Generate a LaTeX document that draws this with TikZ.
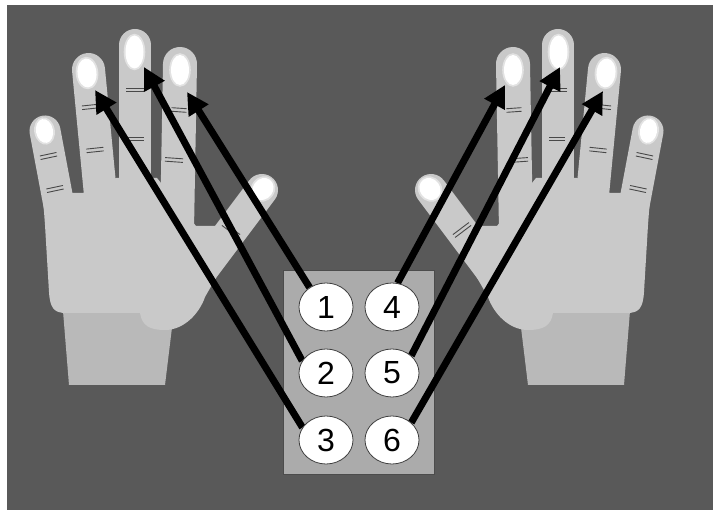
\documentclass[tikz,border=0pt]{standalone}
\usepackage{fontspec}
\setmainfont{Liberation Sans}
\usetikzlibrary{arrows.meta,shapes.geometric}

\definecolor{bgc}{HTML}{595959}
\definecolor{skin}{HTML}{C9C9C9}
\definecolor{wristc}{HTML}{B9B9B9}
\definecolor{nailrim}{HTML}{E2E2E2}
\definecolor{creasec}{HTML}{484848}
\definecolor{boardc}{HTML}{ABABAB}

\pgfdeclarelayer{backdrop}
\pgfdeclarelayer{wires}
\pgfsetlayers{backdrop,wires,main}

\tikzset{
  fingerline/.style={draw=skin, line width=#1, line cap=round},
  dotnode/.style={ellipse, draw=black!75, line width=0.8pt, fill=white,
    minimum width=54pt, minimum height=48pt, inner sep=0pt,
    font=\fontsize{32}{32}\selectfont},
  boardbox/.style={rectangle, draw=black!70, fill=boardc, line width=1pt,
    minimum width=151pt, minimum height=204pt, inner sep=0pt},
  pointer/.style={line width=7pt, black, -{Triangle[length=22pt,width=22pt]}},
  creaseline/.style={draw=creasec, line width=0.9pt},
}

% fingernail: x, y, x radius, y radius, tilt
\newcommand\handnail[5]{%
  \fill[nailrim, rotate around={#5:(#1,#2)}] (#1,#2) ellipse[x radius=#3+1.8, y radius=#4+1.8];
  \fill[white, rotate around={#5:(#1,#2)}] (#1,#2) ellipse[x radius=#3, y radius=#4];
}

% double crease line: x, y, tilt, length
\newcommand\handcrease[4]{%
  \begin{scope}[shift={(#1,#2)}, rotate=#3]
    \draw[creaseline] (-#4/2,-1.8) -- (#4/2,-1.8) (-#4/2,1.8) -- (#4/2,1.8);
  \end{scope}
}

% one left hand, palm towards the viewer
\newcommand\drawhand{%
  % wrist
  \fill[wristc] (63,311) -- (174,311) -- (165,385) -- (69,385) -- cycle;
  % palm
  \fill[skin] (42,185) -- (45,225) -- (49,292)
    .. controls (50,308) and (54,313) .. (66,313) -- (140,313)
    .. controls (142,326) and (150,330) .. (165,330)
    .. controls (185,330) and (200,312) .. (205,297)
    -- (225,262) -- (217,226) -- (196,226) -- (157,178) -- (116,178)
    -- (83,193) -- (72,193) -- (58,180) -- cycle;
  % fingers: little, ring, middle, index, thumb
  \draw[fingerline=31pt] (45,131) -- (60.7,214.5);
  \draw[fingerline=33pt] (88.5,69.5) -- (101,200);
  \draw[fingerline=32pt] (135,45) -- (135,200);
  \draw[fingerline=34pt] (180,64) -- (177,230);
  \draw[fingerline=32pt] (262,190) -- (190,286);
  % nails
  \handnail{44.5}{131}{8.5}{12}{10.7}
  \handnail{87}{73}{9.5}{14.5}{5}
  \handnail{134.5}{52}{9}{16.5}{0}
  \handnail{180}{70}{9}{15}{0}
  \handnail{263}{189}{10}{11.5}{-37}
  % creases
  \handcrease{48.5}{156}{12}{17}
  \handcrease{55}{189}{12}{17}
  \handcrease{89.5}{107}{6}{15}
  \handcrease{95}{150}{6}{17}
  \handcrease{135}{90}{0}{18}
  \handcrease{136}{139}{0}{16}
  \handcrease{179}{110}{-4}{15}
  \handcrease{174}{160}{-4}{18}
  \handcrease{231}{230}{-37}{20}
}

\begin{document}
\begin{tikzpicture}[x=1pt,y=-1pt]
  \useasboundingbox (0,0) rectangle (713,510);

  \begin{pgfonlayer}{backdrop}
    \fill[white] (0,0) rectangle (713,510);
    \fill[bgc] (7,5) rectangle (713,510);
    \drawhand
    \begin{scope}[xshift=693pt, xscale=-1]
      \drawhand
    \end{scope}
    \node[boardbox] (board) at (358.5,373) {};
  \end{pgfonlayer}

  % braille cell
  \node[dotnode] (d1) at (326,307) {1};
  \node[dotnode] (d2) at (326,373) {2};
  \node[dotnode] (d3) at (326,440) {3};
  \node[dotnode] (d4) at (392,307) {4};
  \node[dotnode] (d5) at (392,373) {5};
  \node[dotnode] (d6) at (392,440) {6};

  % fingertips
  \coordinate (lindex)  at (187,92);
  \coordinate (lmiddle) at (144,67);
  \coordinate (lring)   at (95,90);
  \coordinate (rindex)  at (505,85);
  \coordinate (rmiddle) at (560,67);
  \coordinate (rring)   at (603,91);

  \begin{pgfonlayer}{wires}
    \draw[pointer] (d1.130) -- (lindex);
    \draw[pointer] (d2.153) -- (lmiddle);
    \draw[pointer] (d3.152) -- (lring);
    \draw[pointer] (d4.77)  -- (rindex);
    \draw[pointer] (d5.42)  -- (rmiddle);
    \draw[pointer] (d6.42)  -- (rring);
  \end{pgfonlayer}
\end{tikzpicture}
\end{document}
